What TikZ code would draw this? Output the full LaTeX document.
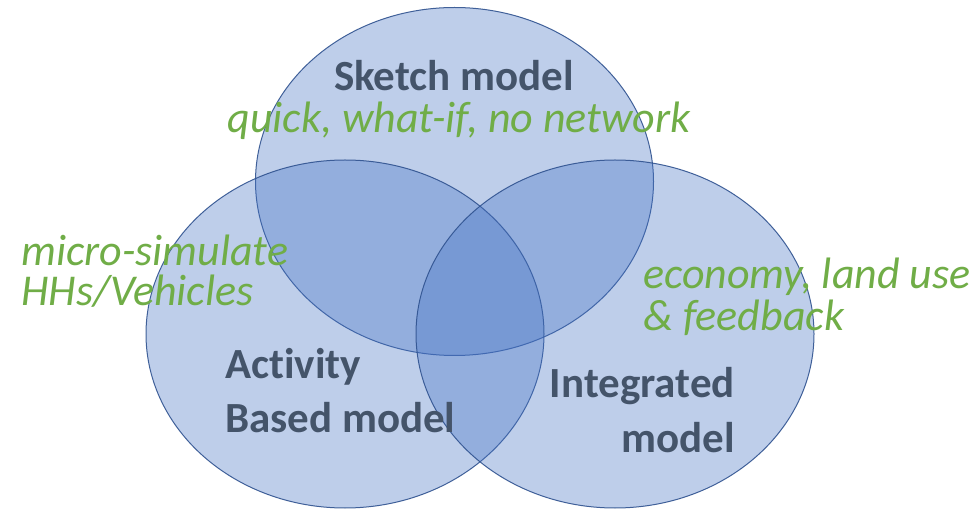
\documentclass[tikz,border=0pt]{standalone}
\usepackage{fontspec}
\setmainfont{Carlito}[Ligatures=NoCommon]
\usetikzlibrary{shapes.geometric}
\definecolor{vennfill}{HTML}{4472C4}
\definecolor{venndraw}{HTML}{2F528F}
\definecolor{textdark}{HTML}{44546A}
\definecolor{notegreen}{HTML}{70AD47}
\tikzset{
  venn/.style={ellipse, draw=venndraw, line width=1pt, fill=vennfill, fill opacity=0.35, draw opacity=0.9,
    minimum width=398pt, minimum height=348pt, inner sep=0pt},
  head/.style={font=\fontsize{43}{50}\selectfont\bfseries, text=textdark, inner sep=0pt},
  note/.style={font=\fontsize{44}{50}\selectfont\itshape, text=notegreen, inner sep=0pt}
}
\begin{document}
\begin{tikzpicture}[x=1pt,y=-1pt]
\useasboundingbox (0,0) rectangle (980,510);
\node[venn] (sketch) at (454.5,181.5) {};
\node[venn] (activity) at (345,334) {};
\node[venn] (integrated) at (615,334) {};
% headings
\node[head, anchor=base] (tsketch) at (454,91) {Sketch model};
\node[head, anchor=base west] (tact1) at (225,379) {Activity};
\node[head, anchor=base west] (tact2) at (225,432) {Based model};
\node[head, anchor=base east] (tint1) at (735,398) {Integrated};
\node[head, anchor=base east] (tint2) at (735,453) {model};
% notes
\node[note, anchor=base] (nsketch) at (459,133) {quick, what-if, no network};
\node[note, anchor=base west] (nact1) at (21,266) {micro-simulate};
\node[note, anchor=base west] (nact2) at (21,306) {HHs/Vehicles};
\node[note, anchor=base west] (nint1) at (643,289) {economy, land use};
\node[note, anchor=base west] (nint2) at (643,331) {\& feedback};
\end{tikzpicture}
\end{document}
